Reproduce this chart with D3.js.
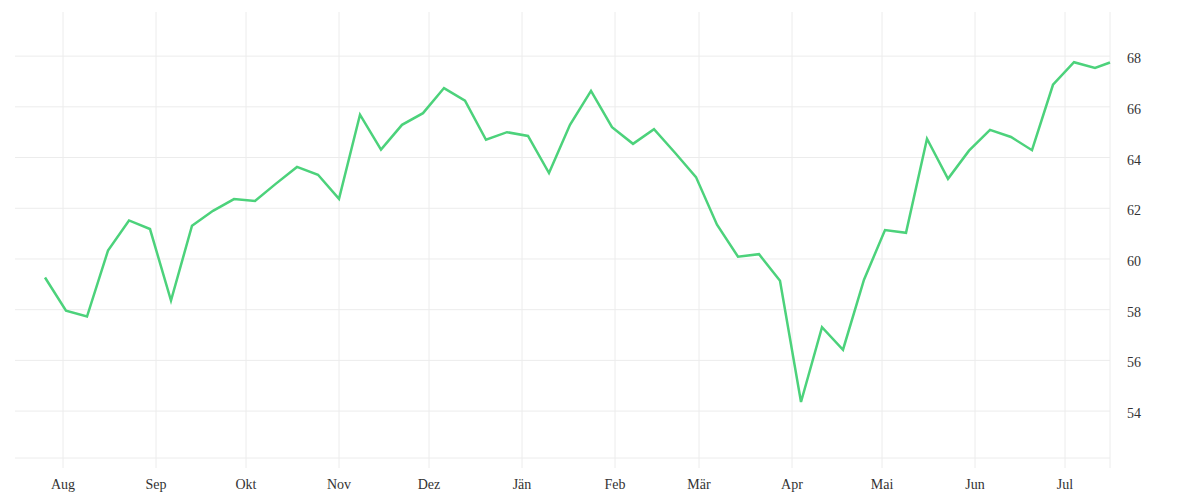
<!DOCTYPE html>
<html>
<head>
<meta charset="utf-8">
<script src="https://cdn.jsdelivr.net/npm/d3@7"></script>
<style>
  body { margin: 0; background: #fff; }
  svg { display: block; }
</style>
</head>
<body>
<div id="chart"></div>
<script>
// weekly closing values, Jul 2020 - Jul 2021
const dates = [
  "2020-07-26","2020-08-02","2020-08-09","2020-08-16","2020-08-23","2020-08-30",
  "2020-09-06","2020-09-13","2020-09-20","2020-09-27","2020-10-04","2020-10-11",
  "2020-10-18","2020-10-25","2020-11-01","2020-11-08","2020-11-15","2020-11-22",
  "2020-11-29","2020-12-06","2020-12-13","2020-12-20","2020-12-27","2021-01-03",
  "2021-01-10","2021-01-17","2021-01-24","2021-01-31","2021-02-07","2021-02-14",
  "2021-02-21","2021-02-28","2021-03-07","2021-03-14","2021-03-21","2021-03-28",
  "2021-04-04","2021-04-11","2021-04-18","2021-04-25","2021-05-02","2021-05-09",
  "2021-05-16","2021-05-23","2021-05-30","2021-06-06","2021-06-13","2021-06-20",
  "2021-06-27","2021-07-04","2021-07-11","2021-07-16"
];
const values = [
  59.27, 57.96, 57.73, 60.33, 61.52, 61.18,
  58.36, 61.31, 61.90, 62.36, 62.29, 62.97,
  63.63, 63.32, 62.37, 65.69, 64.31, 65.29,
  65.75, 66.74, 66.24, 64.70, 65.00, 64.85,
  63.39, 65.29, 66.63, 65.20, 64.54, 65.12,
  64.19, 63.23, 61.35, 60.09, 60.19, 59.14,
  54.36, 57.31, 56.42, 59.18, 61.14, 61.03,
  64.74, 63.16, 64.27, 65.09, 64.81, 64.29,
  66.87, 67.76, 67.53, 67.75
];
const yTicks = [54, 56, 58, 60, 62, 64, 66, 68];
const monthNames = ["Jän","Feb","Mär","Apr","Mai","Jun","Jul","Aug","Sep","Okt","Nov","Dez"];

const width = 1200, height = 500;
const margin = { top: 12, right: 90, bottom: 42, left: 15 };

const parse = d3.timeParse("%Y-%m-%d");
const data = dates.map((d, i) => ({ date: parse(dates[i]), value: values[i] }));

const svg = d3.select("#chart").append("svg")
  .attr("width", width)
  .attr("height", height);

const last = data[data.length - 1].date;
const x = d3.scaleTime()
  .domain([d3.timeDay.offset(data[0].date, -10), last])
  .range([margin.left, width - margin.right]);

const y = d3.scaleLinear()
  .domain([52.15, 69.74])
  .range([height - margin.bottom, margin.top]);

const gridColor = "#ececec";
const textColor = "#333";
const font = "'Liberation Serif', 'Times New Roman', serif";

// horizontal grid
svg.append("g")
  .selectAll("line")
  .data(yTicks.concat([y.domain()[0]]))
  .join("line")
  .attr("x1", margin.left)
  .attr("x2", width - margin.right)
  .attr("y1", d => y(d))
  .attr("y2", d => y(d))
  .attr("stroke", gridColor)
  .attr("stroke-width", 1);

// vertical grid at months + right edge
const months = x.ticks(d3.timeMonth.every(1));
svg.append("g")
  .selectAll("line")
  .data(months.concat([last]))
  .join("line")
  .attr("x1", d => x(d))
  .attr("x2", d => x(d))
  .attr("y1", margin.top)
  .attr("y2", height - margin.bottom + 10)
  .attr("stroke", gridColor)
  .attr("stroke-width", 1);

// month labels
svg.append("g")
  .selectAll("text")
  .data(months)
  .join("text")
  .attr("x", d => x(d))
  .attr("y", 489)
  .attr("text-anchor", "middle")
  .attr("font-family", font)
  .attr("font-size", 14)
  .attr("fill", textColor)
  .text(d => monthNames[d.getMonth()]);

// y labels on the right
svg.append("g")
  .selectAll("text")
  .data(yTicks)
  .join("text")
  .attr("x", width - margin.right + 17)
  .attr("y", d => y(d))
  .attr("dy", "0.5em")
  .attr("font-family", font)
  .attr("font-size", 14)
  .attr("fill", textColor)
  .text(d => d);

// the line
const line = d3.line()
  .x(d => x(d.date))
  .y(d => y(d.value));

svg.append("path")
  .datum(data)
  .attr("d", line)
  .attr("fill", "none")
  .attr("stroke", "#4cd27b")
  .attr("stroke-width", 2.5)
  .attr("stroke-linejoin", "miter");
</script>
</body>
</html>
